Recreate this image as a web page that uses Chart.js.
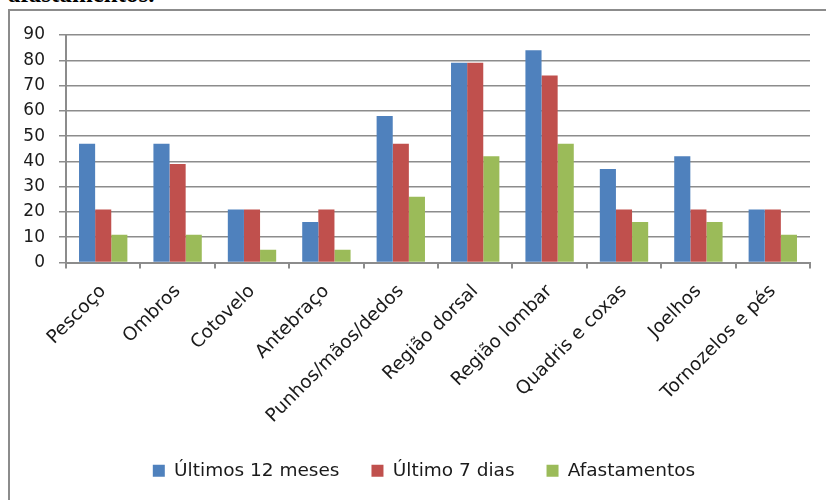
<!DOCTYPE html>
<html>
<head>
<meta charset="utf-8">
<script src="https://cdn.jsdelivr.net/npm/chart.js@4/dist/chart.umd.min.js"></script>
<style>
  html, body { margin: 0; padding: 0; background: #fff; overflow: hidden; }
  #wrap { position: relative; width: 826px; height: 500px; overflow: hidden; }
  #heading { position: absolute; left: 8px; top: -19px; font: bold 25px "Liberation Serif", serif; line-height: 25px; color: #000; }
  #frame { position: absolute; left: 8px; top: 9px; width: 900px; height: 600px; border: 2px solid #8c8c8c; }
  #chart { position: absolute; left: 0; top: 0; }
</style>
</head>
<body>
<div id="wrap">
  <div id="heading">afastamentos.</div>
  <div id="frame"></div>
  <canvas id="chart" width="826" height="500"></canvas>
</div>
<script>
const categories = ['Pescoço', 'Ombros', 'Cotovelo', 'Antebraço', 'Punhos/mãos/dedos',
  'Região dorsal', 'Região lombar', 'Quadris e coxas', 'Joelhos', 'Tornozelos e pés'];
const ultimos12Meses = [47, 47, 21, 16, 58, 79, 84, 37, 42, 21];
const ultimo7Dias = [21, 39, 21, 21, 47, 79, 74, 21, 21, 21];
const afastamentos = [11, 11, 5, 5, 26, 42, 47, 16, 16, 11];

const gridColor = '#8c8c8c';
const font = 'DejaVu Sans';

new Chart(document.getElementById('chart'), {
  type: 'bar',
  data: {
    labels: categories,
    datasets: [
      { label: 'Últimos 12 meses', data: ultimos12Meses, backgroundColor: '#4f81bd' },
      { label: 'Último 7 dias', data: ultimo7Dias, backgroundColor: '#c0504d' },
      { label: 'Afastamentos', data: afastamentos, backgroundColor: '#9bbb59' }
    ]
  },
  options: {
    responsive: false,
    animation: false,
    categoryPercentage: 0.65,
    barPercentage: 1,
    layout: { padding: { top: 35, right: 0, left: 22, bottom: 10 } },
    plugins: {
      tooltip: { enabled: false },
      legend: {
        position: 'bottom',
        labels: {
          boxWidth: 12,
          boxHeight: 12,
          padding: 32,
          color: '#1a1a1a',
          font: { family: font, size: 18.5 }
        }
      }
    },
    scales: {
      x: {
        afterFit: (s) => { s.height = 167; },
        border: { color: gridColor, width: 2 },
        grid: { offset: true, drawOnChartArea: false, color: gridColor, lineWidth: 2, tickLength: 6 },
        ticks: {
          minRotation: 45,
          maxRotation: 45,
          padding: 12,
          color: '#1a1a1a',
          font: { family: font, size: 18.5 }
        }
      },
      y: {
        min: 0,
        max: 90,
        afterFit: (s) => { s.width = 44; },
        border: { color: gridColor, width: 2 },
        grid: { color: gridColor, lineWidth: 1.5, tickLength: 7 },
        ticks: {
          stepSize: 10,
          padding: 14,
          color: '#1a1a1a',
          font: { family: font, size: 17 }
        }
      },
      // empty right-hand axis, only reserves the margin right of the plot
      yRight: {
        position: 'right',
        afterFit: (s) => { s.width = 16; },
        border: { display: false },
        grid: { display: false },
        ticks: { display: false }
      }
    }
  }
});
</script>
</body>
</html>
